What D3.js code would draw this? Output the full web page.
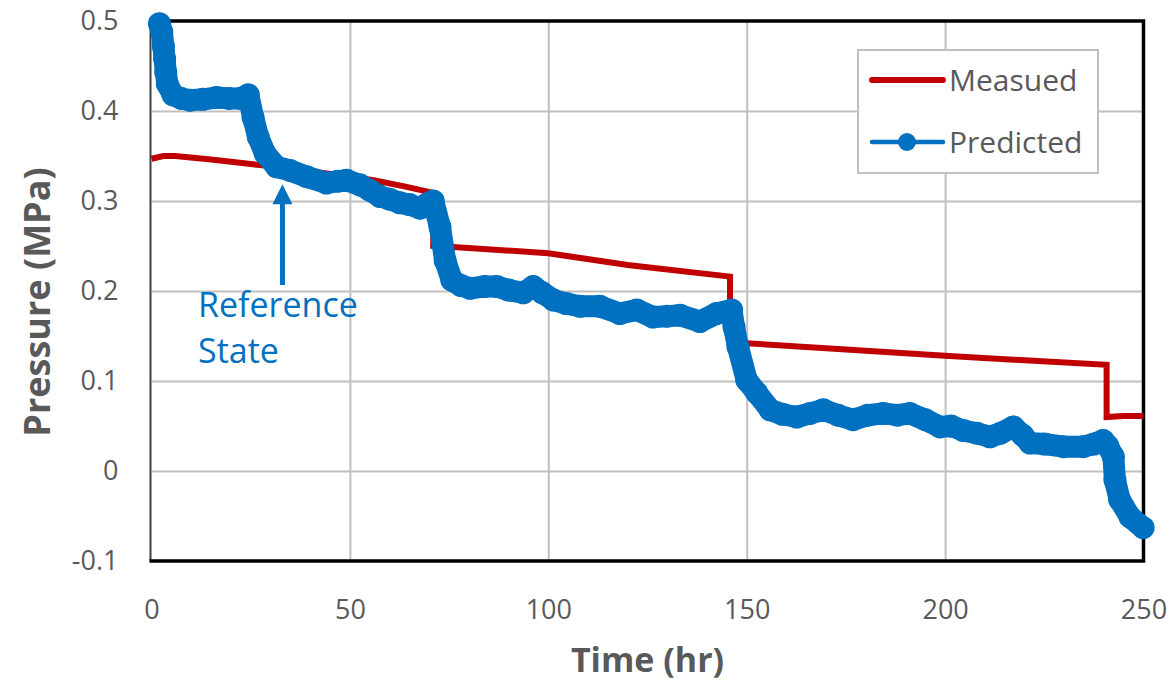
<!DOCTYPE html>
<html>
<head>
<meta charset="utf-8">
<script src="https://cdn.jsdelivr.net/npm/d3@7"></script>
<style>
  body { margin: 0; background: #fff; }
  text { font-family: "Open Sans", "Noto Sans", sans-serif; }
</style>
</head>
<body>
<svg id="chart" width="1175" height="685"></svg>
<script>
// Measured pressure (MPa) against time (hr)
const measuredTime = [0, 3, 6, 15, 25, 32, 45, 56, 64, 71, 71, 76, 100, 120, 145.8, 145.8, 150, 175, 200, 220, 240.7, 240.7, 245, 250];
const measuredPressure = [0.347, 0.350, 0.350, 0.346, 0.341, 0.338, 0.330, 0.323, 0.316, 0.309, 0.250, 0.249, 0.242, 0.229, 0.216, 0.142, 0.142, 0.135, 0.128, 0.123, 0.118, 0.060, 0.061, 0.061];

// Predicted pressure (MPa) against time (hr)
const predictedTime = [2.0, 2.6, 3.0, 3.3, 3.6, 4.0, 5.4, 7.5, 9.7, 13, 16.4, 19.5, 22.3, 24.4, 25.6, 26.9, 28.6, 31.5, 34.9, 39.1, 44.1, 47, 49.2, 52.5, 55, 57.6, 60, 62.6, 65, 67.7, 69.5, 71, 72.7, 74, 75.7, 78, 80.3, 84, 87, 90, 93.7, 96.2, 98.5, 101.3, 104.5, 108, 113, 118, 122.3, 126.4, 130, 133.2, 138.2, 142.4, 146.2, 146.8, 147.8, 150, 152.5, 155.9, 159, 162.6, 166, 169.3, 173, 176.8, 180.5, 184.4, 188, 191.1, 195, 198.7, 201.5, 204.6, 208, 211.3, 214, 217.2, 219.5, 221.4, 225, 229.8, 234.8, 237.5, 239.8, 241, 242.4, 242.8, 244, 246.6, 249.9];
const predictedPressure = [0.497, 0.488, 0.472, 0.458, 0.443, 0.430, 0.418, 0.414, 0.412, 0.413, 0.415, 0.414, 0.414, 0.418, 0.393, 0.371, 0.353, 0.338, 0.334, 0.327, 0.320, 0.322, 0.323, 0.318, 0.312, 0.305, 0.302, 0.298, 0.296, 0.292, 0.297, 0.300, 0.271, 0.234, 0.212, 0.206, 0.203, 0.205, 0.205, 0.201, 0.198, 0.205, 0.198, 0.190, 0.186, 0.183, 0.183, 0.175, 0.179, 0.171, 0.172, 0.173, 0.166, 0.175, 0.179, 0.160, 0.138, 0.101, 0.087, 0.068, 0.063, 0.060, 0.064, 0.068, 0.062, 0.057, 0.062, 0.064, 0.062, 0.064, 0.057, 0.049, 0.050, 0.045, 0.042, 0.038, 0.042, 0.049, 0.040, 0.031, 0.030, 0.027, 0.027, 0.030, 0.034, 0.028, 0.016, -0.010, -0.032, -0.051, -0.063];

// Axis ticks
const xTicks = [0, 50, 100, 150, 200, 250];
const xTickLabels = ["0", "50", "100", "150", "200", "250"];
const yTicks = [-0.1, 0, 0.1, 0.2, 0.3, 0.4, 0.5];
const yTickLabels = ["-0.1", "0", "0.1", "0.2", "0.3", "0.4", "0.5"];

const seriesNames = ["Measued", "Predicted"];
const seriesColors = ["#c00000", "#0070c0"];
const annotationLines = ["Reference", "State"];
const annotationTime = 33;
const annotationPressure = 0.332;

const measured = measuredTime.map((t, i) => ({ t, p: measuredPressure[i] }));
const predicted = predictedTime.map((t, i) => ({ t, p: predictedPressure[i] }));

const svg = d3.select("#chart");
const plot = { left: 151.5, right: 1143.5, top: 21, bottom: 561 };

const x = d3.scaleLinear().domain([0, 250]).range([plot.left, plot.right]);
const y = d3.scaleLinear().domain([-0.1, 0.5]).range([plot.bottom, plot.top]);

svg.append("rect").attr("width", 1175).attr("height", 685).attr("fill", "#fff");

// Gridlines
const grid = svg.append("g");
grid.append("g")
  .attr("transform", `translate(0,${plot.bottom})`)
  .call(d3.axisBottom(x).tickValues(xTicks.slice(1, -1)).tickSize(-(plot.bottom - plot.top)).tickFormat(""))
  .call(g => g.select(".domain").remove());
grid.append("g")
  .attr("transform", `translate(${plot.left},0)`)
  .call(d3.axisLeft(y).tickValues(yTicks.slice(1, -1)).tickSize(-(plot.right - plot.left)).tickFormat(""))
  .call(g => g.select(".domain").remove());
grid.selectAll("line").attr("stroke", "#c0c0c0").attr("stroke-width", 2);

// Tick labels
const xAxis = svg.append("g")
  .attr("transform", `translate(0,${plot.bottom})`)
  .call(d3.axisBottom(x).tickValues(xTicks).tickSize(0).tickPadding(39).tickFormat((d, i) => xTickLabels[i]));
xAxis.select(".domain").remove();
xAxis.selectAll("text").attr("font-size", 27).attr("fill", "#595959").attr("font-family", "Open Sans");

const yAxis = svg.append("g")
  .attr("transform", `translate(${plot.left},0)`)
  .call(d3.axisLeft(y).tickValues(yTicks).tickSize(0).tickPadding(33).tickFormat((d, i) => yTickLabels[i]));
yAxis.select(".domain").remove();
yAxis.selectAll("text").attr("font-size", 27).attr("fill", "#595959").attr("font-family", "Open Sans");

// Plot frame
svg.append("line").attr("x1", plot.left - 1).attr("x2", plot.left - 1).attr("y1", plot.top).attr("y2", plot.bottom)
  .attr("stroke", "#404040").attr("stroke-width", 2);
svg.append("path")
  .attr("d", `M${plot.left - 2},${plot.top} H${plot.right} V${plot.bottom} H${plot.left - 2}`)
  .attr("fill", "none").attr("stroke", "#000").attr("stroke-width", 3.5);

// Axis titles
svg.append("text")
  .attr("x", 647.5).attr("y", 672)
  .attr("text-anchor", "middle")
  .attr("font-size", 34).attr("font-weight", "bold").attr("fill", "#595959")
  .text("Time (hr)");
svg.append("text")
  .attr("transform", `translate(50,302) rotate(-90)`)
  .attr("text-anchor", "middle")
  .attr("font-size", 36).attr("font-weight", "bold").attr("fill", "#595959")
  .text("Pressure (MPa)");

// Measured series
const line = d3.line().x(d => x(d.t)).y(d => y(d.p));
svg.append("path").datum(measured)
  .attr("d", line)
  .attr("fill", "none").attr("stroke", seriesColors[0]).attr("stroke-width", 6)
  .attr("stroke-linejoin", "miter");

// Predicted series
svg.append("path").datum(predicted)
  .attr("d", line)
  .attr("fill", "none").attr("stroke", seriesColors[1]).attr("stroke-width", 22)
  .attr("stroke-linejoin", "round").attr("stroke-linecap", "round");
svg.append("g").selectAll("circle").data(predicted).join("circle")
  .attr("cx", d => x(d.t)).attr("cy", d => y(d.p)).attr("r", 11.5)
  .attr("fill", seriesColors[1]);

// Legend
const legend = svg.append("g");
legend.append("rect")
  .attr("x", 858).attr("y", 50).attr("width", 240).attr("height", 123)
  .attr("fill", "#fff").attr("stroke", "#c0c0c0").attr("stroke-width", 2);
const legendRows = [80, 142];
seriesNames.forEach((name, i) => {
  const g = legend.append("g");
  g.append("line").attr("x1", 872).attr("x2", 943).attr("y1", legendRows[i]).attr("y2", legendRows[i])
    .attr("stroke", seriesColors[i]).attr("stroke-width", i === 0 ? 6 : 4.5).attr("stroke-linecap", "round");
  if (i === 1) {
    g.append("circle").attr("cx", 907).attr("cy", legendRows[i]).attr("r", 9).attr("fill", seriesColors[i]);
  }
  g.append("text").attr("x", 949).attr("y", legendRows[i] + 11)
    .attr("font-size", 30).attr("fill", "#595959").text(name);
});

// Annotation arrow and label
const ax = x(annotationTime);
const tipY = y(annotationPressure) + 12;
svg.append("line").attr("x1", ax).attr("x2", ax).attr("y1", tipY + 16).attr("y2", 285)
  .attr("stroke", seriesColors[1]).attr("stroke-width", 5);
svg.append("path")
  .attr("d", `M${ax},${tipY} L${ax - 10},${tipY + 20} L${ax + 10},${tipY + 20} Z`)
  .attr("fill", seriesColors[1]);
svg.append("text").attr("x", 198).attr("y", 317)
  .attr("font-size", 34).attr("fill", seriesColors[1])
  .selectAll("tspan").data(annotationLines).join("tspan")
  .attr("x", 198).attr("dy", (d, i) => i === 0 ? 0 : 46).text(d => d);
</script>
</body>
</html>
